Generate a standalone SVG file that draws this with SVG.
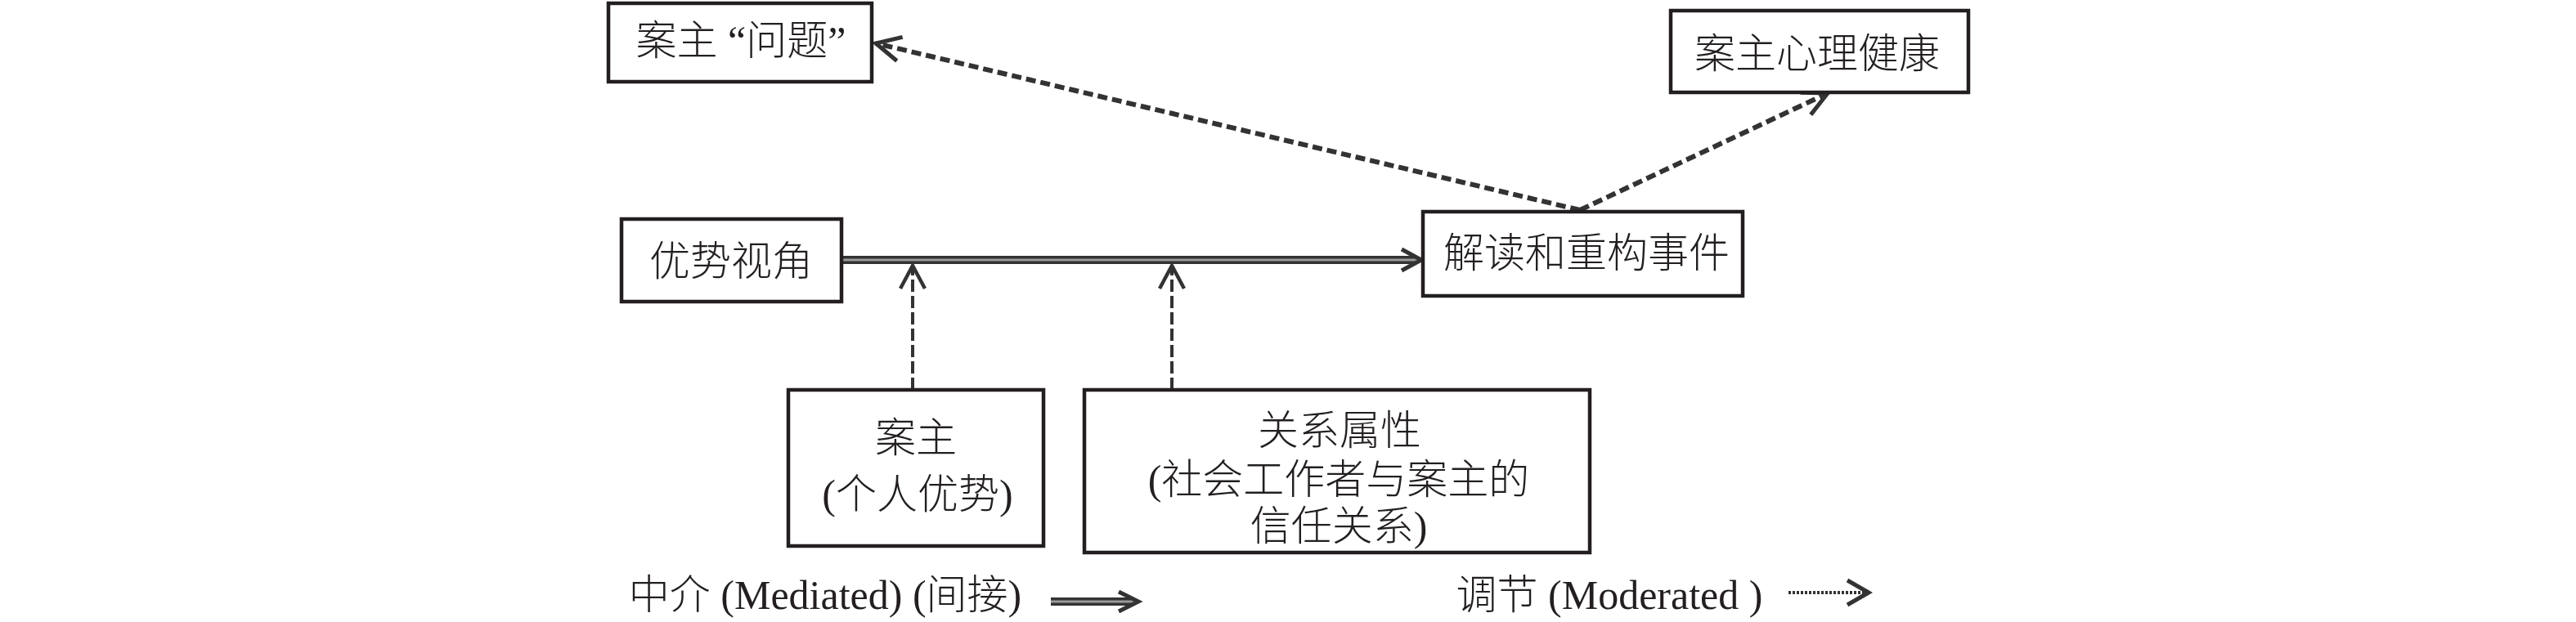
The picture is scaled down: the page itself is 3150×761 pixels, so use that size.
<svg xmlns="http://www.w3.org/2000/svg" width="3150" height="761" viewBox="0 0 3150 761">
<style>
  .box rect { fill: #fff; stroke: #231f20; stroke-width: 4.5; }
  text { font-family: "Liberation Serif", "Noto Sans CJK SC", serif; font-size: 50px; font-weight: 300; fill: #231f20; text-anchor: middle; }
  .dash { fill: none; stroke: #333; stroke-width: 6; stroke-dasharray: 12 6; }
  .vdash { fill: none; stroke: #333; stroke-width: 4; stroke-dasharray: 15 5; }
  .dbl { fill: none; stroke: #333; stroke-width: 10; }
  .dbl-in { fill: none; stroke: #9a9a9a; stroke-width: 3; }
  .dot { fill: none; stroke: #333; stroke-width: 4; stroke-dasharray: 3 2; }
</style>
<defs>
  <marker id="chev" markerUnits="userSpaceOnUse" viewBox="-40 -25 50 50" markerWidth="50" markerHeight="50" refX="0" refY="0" orient="auto" overflow="visible">
    <path d="M-30,-15 L0,0 L-30,15" fill="none" stroke="#333" stroke-width="5"/>
  </marker>
  <marker id="chevv" markerUnits="userSpaceOnUse" viewBox="-40 -25 50 50" markerWidth="50" markerHeight="50" refX="0" refY="0" orient="auto" overflow="visible">
    <path d="M-28,-15 L0,0 L-28,15" fill="none" stroke="#333" stroke-width="4.5"/>
  </marker>
</defs>
<rect width="3150" height="761" fill="#fff"/>

<g id="connectors">
  <path id="c-problem" class="dash" d="M1932,257 L1071,53" marker-end="url(#chev)"/>
  <path id="c-health" class="dash" d="M1932,257 L2235,114" marker-end="url(#chev)"/>
  <path id="c-client" class="vdash" d="M1116,477 L1116,325" marker-end="url(#chevv)"/>
  <path id="c-relation" class="vdash" d="M1433,477 L1433,325" marker-end="url(#chevv)"/>
  <g id="c-main">
    <path class="dbl" d="M1029,318 L1732,318"/>
    <path class="dbl-in" d="M1029,318 L1732,318"/>
    <path d="M1714,305 L1738,318 L1714,331" fill="none" stroke="#333" stroke-width="5"/>
  </g>
</g>

<g id="n-problem" class="box">
  <rect x="744" y="4" width="322" height="96"/>
  <text x="906" y="67">案主 “问题”</text>
</g>
<g id="n-health" class="box">
  <rect x="2043" y="13" width="364" height="100"/>
  <text x="2222" y="83">案主心理健康</text>
</g>
<g id="n-strength" class="box">
  <rect x="760" y="268" width="269" height="101"/>
  <text x="894" y="337">优势视角</text>
</g>
<g id="n-event" class="box">
  <rect x="1740" y="259" width="391" height="103"/>
  <text x="1940" y="327">解读和重构事件</text>
</g>
<g id="n-client" class="box">
  <rect x="964" y="477" width="312" height="191"/>
  <text x="1120" y="553">案主</text>
  <text x="1122" y="622">(个人优势)</text>
</g>
<g id="n-relation" class="box">
  <rect x="1326" y="477" width="618" height="199"/>
  <text x="1638" y="544">关系属性</text>
  <text x="1637" y="604">(社会工作者与案主的</text>
  <text x="1637" y="661">信任关系)</text>
</g>

<g id="legend">
  <text x="1009" y="745">中介 (Mediated) (间接)</text>
  <path class="dbl" d="M1285,736 L1386,736"/>
  <path class="dbl-in" d="M1285,736 L1386,736"/>
  <path d="M1368,724 L1392,736 L1368,748" fill="none" stroke="#333" stroke-width="5"/>
  <text x="1968" y="745">调节 (Moderated )</text>
  <path class="dot" d="M2187,725 L2282,725"/>
  <path d="M2259,710 L2285,725 L2259,740" fill="none" stroke="#333" stroke-width="5"/>
</g>
</svg>
